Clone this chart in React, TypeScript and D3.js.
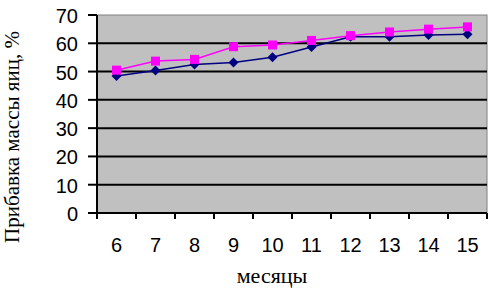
import React from "react";
import * as d3 from "d3";

const months = ["6", "7", "8", "9", "10", "11", "12", "13", "14", "15"];
const seriesBlue = [48.4, 50.4, 52.5, 53.2, 55.1, 58.7, 62.3, 62.3, 62.9, 63.2];
const seriesPink = [50.5, 53.7, 54.3, 58.8, 59.4, 61.0, 62.7, 64.0, 65.0, 65.8];
const yTicks = [0, 10, 20, 30, 40, 50, 60, 70];
const yTitle = "Прибавка массы яиц, %";
const xTitle = "месяцы";

const W = 498;
const H = 288;
const L = 97, R = 487, T = 15, B = 213;

export default function App() {
  const x = d3.scaleBand<string>().domain(months).range([L, R]).padding(0);
  const y = d3.scaleLinear().domain([0, 70]).range([B, T]);
  const cx = (m: string) => (x(m) as number) + x.bandwidth() / 2;
  const line = d3.line<[number, number]>().x(d => d[0]).y(d => d[1]);
  const bluePts: [number, number][] = months.map((m, i) => [cx(m), y(seriesBlue[i])]);
  const pinkPts: [number, number][] = months.map((m, i) => [cx(m), y(seriesPink[i])]);
  const sans = "'Liberation Sans', Arial, sans-serif";
  const serif = "'Liberation Serif', 'Times New Roman', serif";
  const xEdges = months.map(m => x(m) as number).concat([R]);
  return (
    <svg width={W} height={H} style={{ position: "absolute", left: 0, top: 0, background: "#fff" }}>
      <rect x={L} y={T} width={R - L} height={B - T} fill="#c0c0c0" stroke="#808080" strokeWidth={1} />
      {yTicks.filter(v => v > 0 && v < 70).map(v => (
        <line key={v} x1={L} x2={R} y1={y(v)} y2={y(v)} stroke="#000" strokeWidth={2} />
      ))}
      <line x1={L} x2={L} y1={T} y2={B + 1} stroke="#000" strokeWidth={2} />
      <line x1={L - 1} x2={R} y1={B} y2={B} stroke="#000" strokeWidth={2} />
      {yTicks.map(v => (
        <g key={v}>
          <line x1={L - 9} x2={L} y1={y(v)} y2={y(v)} stroke="#000" strokeWidth={2} />
          <text x={78} y={y(v) + 8} textAnchor="end" fontFamily={sans} fontSize={20} fill="#000">{v}</text>
        </g>
      ))}
      {xEdges.map((e, i) => (
        <line key={i} x1={e} x2={e} y1={B} y2={B + 6} stroke="#000" strokeWidth={2} />
      ))}
      {months.map(m => (
        <text key={m} x={cx(m)} y={252} textAnchor="middle" fontFamily={sans} fontSize={20} fill="#000">{m}</text>
      ))}
      <path d={line(bluePts) || ""} fill="none" stroke="#000080" strokeWidth={1.5} />
      {bluePts.map((p, i) => (
        <path key={i} d={`M${p[0]},${p[1] - 5}L${p[0] + 5},${p[1]}L${p[0]},${p[1] + 5}L${p[0] - 5},${p[1]}Z`} fill="#000080" />
      ))}
      <path d={line(pinkPts) || ""} fill="none" stroke="#ff00ff" strokeWidth={1.5} />
      {pinkPts.map((p, i) => (
        <rect key={i} x={p[0] - 4.5} y={p[1] - 4.5} width={9} height={9} fill="#ff00ff" />
      ))}
      <text x={272} y={283} textAnchor="middle" fontFamily={serif} fontSize={22} fill="#000">{xTitle}</text>
      <text transform={`translate(19,137) rotate(-90)`} textAnchor="middle" fontFamily={serif} fontSize={21} fill="#000">{yTitle}</text>
    </svg>
  );
}
